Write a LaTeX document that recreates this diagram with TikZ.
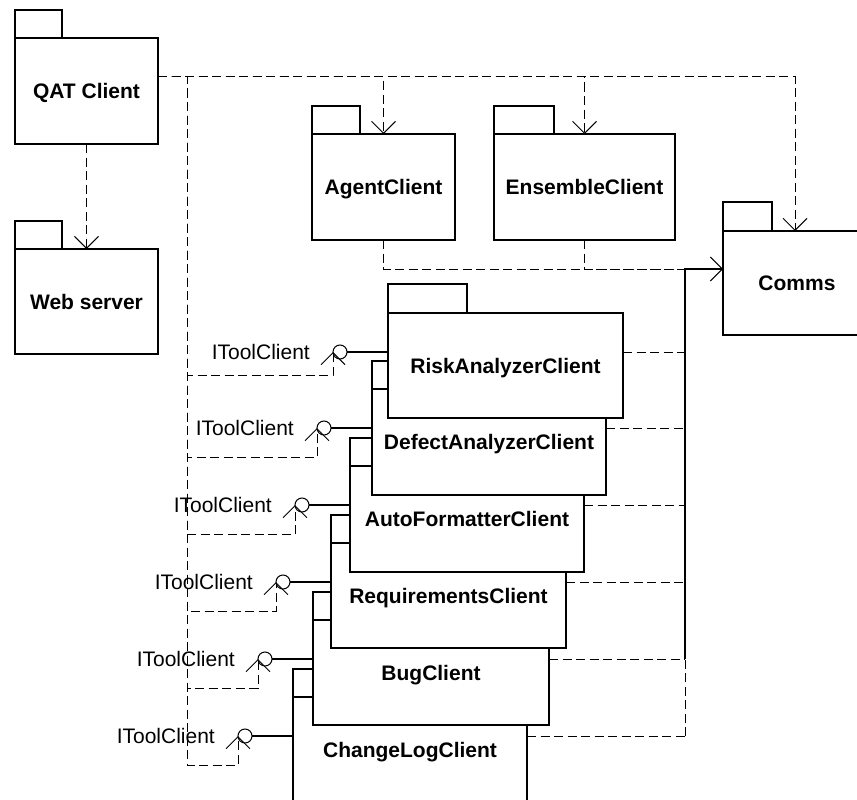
\documentclass[tikz,border=0pt]{standalone}
\usepackage{fontspec}
\setmainfont{Liberation Sans}
\usetikzlibrary{arrows.meta}
\begin{document}
\begin{tikzpicture}[x=1pt, y=-1pt,
  pkg/.style={draw, line width=1.5pt, fill=white, anchor=north west,
    inner sep=0pt, outer sep=0pt, text height=15pt, text depth=0pt,
    font=\fontsize{21}{25}\selectfont\bfseries},
  tabbox/.style={draw, line width=1.5pt, fill=white},
  depline/.style={draw, line width=1pt, dash pattern=on 9pt off 4.5pt},
  barb/.style={-{Straight Barb[length=12pt, width=24pt, line width=1pt]}},
  dep/.style={depline, barb},
  trunk/.style={draw, line width=1.2pt},
  iface/.style={circle, draw, line width=1pt, fill=white, minimum size=14pt,
    inner sep=0pt, outer sep=0pt},
  ifline/.style={draw, line width=1.2pt},
  ilabel/.style={anchor=east, inner sep=0pt, text height=15pt, text depth=0pt,
    font=\fontsize{21}{25}\selectfont}]
\useasboundingbox (0,0) rectangle (857,800);
\clip (0,0) rectangle (857,800);

% top-level packages
\node[pkg, minimum width=143pt, minimum height=106pt] (qat) at (15,38) {QAT Client};
\draw[tabbox] (qat.north west) rectangle ++(47,-28);
\node[pkg, minimum width=143pt, minimum height=105pt] (web) at (15,249) {Web server};
\draw[tabbox] (web.north west) rectangle ++(47,-28);
\node[pkg, minimum width=143pt, minimum height=106pt] (agent) at (312,134) {AgentClient};
\draw[tabbox] (agent.north west) rectangle ++(48,-28);
\node[pkg, minimum width=181pt, minimum height=106pt] (ens) at (494,134) {EnsembleClient};
\draw[tabbox] (ens.north west) rectangle ++(60,-28);
\node[pkg, minimum width=148pt, minimum height=104pt] (comms) at (723,231) {Comms};
\draw[tabbox] (comms.north west) rectangle ++(49,-29);

% stacked tool client packages, lowest first
\draw[tabbox] (293,697) rectangle ++(79,-28);
\node[pkg, minimum width=234pt, minimum height=106pt] (cl) at (293,697) {ChangeLogClient};
\draw[tabbox] (313,620) rectangle ++(79,-28);
\node[pkg, minimum width=236pt, minimum height=105pt] (bug) at (313,620) {BugClient};
\draw[tabbox] (331,543) rectangle ++(79,-28);
\node[pkg, minimum width=235pt, minimum height=105pt] (req) at (331,543) {RequirementsClient};
\draw[tabbox] (350,466) rectangle ++(79,-28);
\node[pkg, minimum width=234pt, minimum height=106pt] (af) at (350,466) {AutoFormatterClient};
\draw[tabbox] (372,389) rectangle ++(79,-28);
\node[pkg, minimum width=234pt, minimum height=106pt] (defect) at (372,389) {DefectAnalyzerClient};
\draw[tabbox] (388,313) rectangle ++(79,-29);
\node[pkg, minimum width=235pt, minimum height=105pt] (risk) at (388,313) {RiskAnalyzerClient};

% provided interfaces (lollipops) with their labels
\foreach \c in {risk, defect, af, req, bug, cl} {
  \node[iface] (\c I) at ([shift={(-48,39)}]\c.north west) {};
  \draw[ifline] (\c I) -- (\c I -| \c.west);
  \node[ilabel] (\c L) at ([shift={(-30,0)}]\c I.center) {IToolClient};
}

% dependencies of QAT Client
\coordinate (qo) at ([shift={(0,39)}]qat.north east);
\coordinate (tx) at ([shift={(29,0)}]qo);
\draw[dep] (qat.south) -- (web.north);
\draw[dep] (qo) -| (agent.north);
\draw[dep] (qo) -| (ens.north);
\draw[dep] (qo) -| ([shift={(72,0)}]comms.north west);
\draw[dep] (qo) -- (tx) |- ([shift={(0,23)}]riskI.west) -- (riskI.west);
\foreach \c in {defect, af, req, bug, cl} {
  \draw[dep] (qo) -- (tx) |- ([shift={(0,29)}]\c I.west) -- (\c I.west);
}

% dependencies on Comms, merged into one trunk
\coordinate (cin) at ([shift={(0,38)}]comms.north west);
\coordinate (bus) at ([shift={(-38,0)}]cin);
\foreach \c in {risk, defect, af, req, bug, cl} {
  \coordinate (\c O) at ([shift={(0,39)}]\c.north east);
  \coordinate (\c J) at (bus |- \c O);
  \draw[depline] (\c O) -- (\c J);
}
\draw[depline] (agent.south) |- (bus);
\draw[depline] (ens.south) |- (bus);
\draw[depline] (clJ) -- (bugJ);
\draw[trunk, barb] (bugJ) -- (bus) -- (cin);
\end{tikzpicture}
\end{document}
